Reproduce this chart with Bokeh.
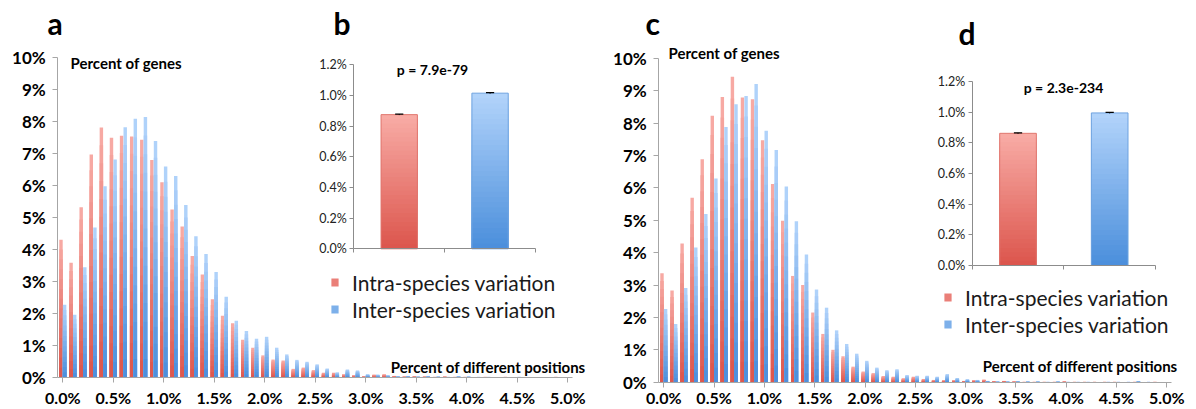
from bokeh.plotting import figure
from bokeh.models import (Range1d, LinearAxis, FixedTicker, PrintfTickFormatter,
                          Label, Legend, LegendItem, ColumnDataSource)
from bokeh.layouts import row
from bokeh.embed import file_html
from bokeh.resources import INLINE

# ---------------- data ----------------
BINS = [0.0, 0.1, 0.2, 0.3, 0.4, 0.5, 0.6, 0.7, 0.8, 0.9,
        1.0, 1.1, 1.2, 1.3, 1.4, 1.5, 1.6, 1.7, 1.8, 1.9,
        2.0, 2.1, 2.2, 2.3, 2.4, 2.5, 2.6, 2.7, 2.8, 2.9,
        3.0, 3.1, 3.2, 3.3, 3.4, 3.5, 3.6, 3.7, 3.8, 3.9,
        4.0, 4.1, 4.2, 4.3, 4.4, 4.5, 4.6, 4.7, 4.8, 4.9, 5.0]

A_INTRA = [4.30, 3.58, 5.31, 6.96, 7.80, 7.48, 7.54, 7.52, 7.42, 6.79,
           6.09, 5.24, 4.71, 3.79, 3.21, 2.44, 1.93, 1.69, 1.18, 0.93,
           0.69, 0.56, 0.53, 0.27, 0.31, 0.23, 0.15, 0.15, 0.10, 0.07,
           0.04, 0.09, 0.10, 0.05, 0.03, 0.04, 0.03, 0.02, 0.03, 0.02,
           0.02, 0.01, 0.02, 0.01, 0.02, 0.01, 0.01, 0.01, 0.01, 0.02, 0.00]
A_INTER = [2.27, 1.96, 3.44, 4.68, 5.97, 6.80, 7.81, 8.07, 8.13, 7.38,
           6.58, 6.29, 5.38, 4.41, 3.85, 3.29, 2.52, 1.77, 1.45, 1.21,
           1.27, 0.93, 0.72, 0.55, 0.49, 0.41, 0.28, 0.16, 0.25, 0.22,
           0.10, 0.09, 0.07, 0.04, 0.05, 0.03, 0.05, 0.03, 0.02, 0.04,
           0.03, 0.02, 0.02, 0.01, 0.01, 0.02, 0.01, 0.01, 0.00, 0.01, 0.00]
C_INTRA = [3.36, 2.83, 4.28, 5.69, 6.88, 8.22, 8.80, 9.43, 8.79, 8.73,
           7.47, 6.12, 4.98, 3.28, 3.00, 2.15, 1.49, 1.00, 0.80, 0.48,
           0.33, 0.28, 0.19, 0.17, 0.12, 0.17, 0.10, 0.07, 0.06, 0.06,
           0.04, 0.06, 0.08, 0.03, 0.04, 0.02, 0.01, 0.01, 0.01, 0.01,
           0.02, 0.01, 0.01, 0.01, 0.01, 0.01, 0.00, 0.01, 0.00, 0.01, 0.00]
C_INTER = [2.26, 1.80, 2.91, 4.16, 5.19, 6.29, 7.88, 8.58, 8.83, 9.20,
           7.76, 7.17, 6.04, 4.97, 3.94, 2.86, 2.30, 1.60, 1.18, 0.88,
           0.66, 0.45, 0.37, 0.40, 0.22, 0.20, 0.20, 0.17, 0.25, 0.13,
           0.09, 0.07, 0.04, 0.02, 0.02, 0.03, 0.02, 0.02, 0.01, 0.02,
           0.01, 0.01, 0.01, 0.00, 0.01, 0.01, 0.01, 0.03, 0.01, 0.00, 0.00]

GROUPS = ["Intra-species variation", "Inter-species variation"]
B_MEANS = [0.875, 1.015]
B_ERR = [0.003, 0.003]
D_MEANS = [0.862, 0.995]
D_ERR = [0.003, 0.003]
B_PVAL = "p = 7.9e-79"
D_PVAL = "p = 2.3e-234"

Y_TICKS = [0, 1, 2, 3, 4, 5, 6, 7, 8, 9, 10]
X_TICKS = [0.0, 0.5, 1.0, 1.5, 2.0, 2.5, 3.0, 3.5, 4.0, 4.5, 5.0]
INSET_TICKS = [0.0, 0.2, 0.4, 0.6, 0.8, 1.0, 1.2]
Y_LABEL = "Percent of genes"
X_LABEL = "Percent of different positions"

# ---------------- style ----------------
FONT = "Lato"
RED_TOP, RED_BOT = "#f8aca6", "#dc554c"
BLUE_TOP, BLUE_BOT = "#b3d4fb", "#4a8edb"
RED_LINE, BLUE_LINE = "#e0766e", "#6fa3e0"
AXIS_COL = "#a6a6a6"
N_SLICES = 14
H = 409


def hex2rgb(h):
    h = h.lstrip("#")
    return tuple(int(h[i:i + 2], 16) for i in (0, 2, 4))


def mix(c1, c2, t):
    a, b = hex2rgb(c1), hex2rgb(c2)
    return "#%02x%02x%02x" % tuple(int(round(a[i] + (b[i] - a[i]) * t)) for i in range(3))


def gradient_source(xs, vals, c_top, c_bot, n=N_SLICES):
    x, top, col = [], [], []
    for i in reversed(range(n)):
        for xv, v in zip(xs, vals):
            x.append(xv)
            top.append(v * (i + 1) / n)
            col.append(mix(c_bot, c_top, (i + 0.5) / n))
    return ColumnDataSource(dict(x=x, top=top, color=col))


def mk_lin(p0, d0, p1, d1):
    return lambda px: d0 + (px - p0) * (d1 - d0) / (p1 - p0)


def build(g, intra, inter, means, errs, pval, letters):
    x0, W = g["x0"], g["W"]
    fx = mk_lin(g["mx0"], 0.0, g["mx5"], 5.0)
    fy = mk_lin(g["my0"], 0.0, g["my10"], 10.0)
    ix = mk_lin(g["ix0"], 0.0, g["ix2"], 2.0)
    iy = mk_lin(g["iy0"], 0.0, g["iy12"], 1.2)

    p = figure(width=W, height=H, title=None,
               min_border=0, min_border_left=0, min_border_right=0,
               min_border_top=0, min_border_bottom=0,
               x_range=Range1d(fx(x0), fx(x0 + W)), y_range=Range1d(fy(H), fy(0)),
               x_axis_type=None, y_axis_type=None,
               output_backend="svg", toolbar_location=None)
    p.outline_line_color = None
    p.xgrid.visible = False
    p.ygrid.visible = False
    p.background_fill_color = "white"
    p.border_fill_color = "white"
    p.extra_x_ranges = {"ix": Range1d(ix(x0), ix(x0 + W))}
    p.extra_y_ranges = {"iy": Range1d(iy(H), iy(0))}

    # main axes (fixed inside the frame)
    xa = LinearAxis(ticker=FixedTicker(ticks=X_TICKS), fixed_location=0,
                    bounds=(-0.05, 5.05),
                    formatter=PrintfTickFormatter(format="%.1f%%"))
    ya = LinearAxis(ticker=FixedTicker(ticks=Y_TICKS), fixed_location=-0.05,
                    bounds=(0, 10),
                    formatter=PrintfTickFormatter(format="%d%%"))
    for ax in (xa, ya):
        ax.axis_line_color = AXIS_COL
        ax.major_tick_line_color = AXIS_COL
        ax.minor_tick_line_color = None
        ax.major_tick_out = 5
        ax.major_tick_in = 0
        ax.major_label_text_font = FONT
        ax.major_label_text_font_style = "bold"
        ax.major_label_text_color = "black"
    xa.major_label_text_font_size = "16px"
    ya.major_label_text_font_size = "17px"
    xa.major_label_standoff = g["xstand"]
    ya.major_label_standoff = 7
    p.add_layout(xa, "below")
    p.add_layout(ya, "left")

    # histogram bars with vertical gradient
    off, bw = 0.018, 0.034
    src_r = gradient_source([b - off for b in BINS], intra, RED_TOP, RED_BOT)
    src_b = gradient_source([b + off for b in BINS], inter, BLUE_TOP, BLUE_BOT)
    p.vbar(x="x", top="top", bottom=0, width=bw, source=src_r,
           fill_color="color", line_color=None)
    p.vbar(x="x", top="top", bottom=0, width=bw, source=src_b,
           fill_color="color", line_color=None)

    # inset bar chart
    cats = [0.5, 1.5]
    ns = 30
    ins_src_r = gradient_source([cats[0]], [means[0]], RED_TOP, RED_BOT, ns)
    ins_src_b = gradient_source([cats[1]], [means[1]], BLUE_TOP, BLUE_BOT, ns)
    rr = p.vbar(x="x", top="top", bottom=0, width=0.4, source=ins_src_r, fill_color="color",
                line_color=None, x_range_name="ix", y_range_name="iy")
    rb = p.vbar(x="x", top="top", bottom=0, width=0.4, source=ins_src_b, fill_color="color",
                line_color=None, x_range_name="ix", y_range_name="iy")
    p.vbar(x=cats, top=means, bottom=0, width=0.4, fill_alpha=0,
           line_color=[RED_LINE, BLUE_LINE], line_width=1,
           x_range_name="ix", y_range_name="iy")
    ups = [m + e for m, e in zip(means, errs)]
    p.segment(x0=cats, x1=cats, y0=[m - e for m, e in zip(means, errs)], y1=ups,
              line_color="black", line_width=1, x_range_name="ix", y_range_name="iy")
    p.segment(x0=[c - 0.045 for c in cats], x1=[c + 0.045 for c in cats],
              y0=ups, y1=ups, line_color="black", line_width=1.2,
              x_range_name="ix", y_range_name="iy")

    iya = LinearAxis(x_range_name="ix", y_range_name="iy", fixed_location=0,
                     bounds=(0, 1.2), ticker=FixedTicker(ticks=INSET_TICKS),
                     formatter=PrintfTickFormatter(format="%.1f%%"))
    ixa = LinearAxis(x_range_name="ix", y_range_name="iy", fixed_location=0,
                     bounds=(0, 2), ticker=FixedTicker(ticks=[0, 1, 2]),
                     major_label_text_alpha=0)
    for ax in (iya, ixa):
        ax.axis_line_color = "#8c8c8c"
        ax.major_tick_line_color = "#8c8c8c"
        ax.minor_tick_line_color = None
        ax.major_tick_out = 4
        ax.major_tick_in = 0
        ax.major_label_text_font = FONT
        ax.major_label_text_font_size = "12.5px"
        ax.major_label_text_color = "#222222"
        ax.major_label_standoff = 3
    p.add_layout(iya, "left")
    p.add_layout(ixa, "below")

    # legend
    lx, ltop = g["legend"]
    item_h, spacing = 25, 2
    lbottom = ltop + 2 * item_h + spacing
    leg = Legend(items=[LegendItem(label=GROUPS[0], renderers=[rr], index=ns // 2),
                        LegendItem(label=GROUPS[1], renderers=[rb], index=ns // 2)],
                 location=(lx - x0, H - lbottom),
                 label_text_font=FONT, label_text_font_size="21px",
                 label_text_color="#1a1a1a", glyph_width=9, glyph_height=10,
                 label_standoff=13, spacing=spacing, padding=0, margin=0,
                 label_height=item_h, border_line_alpha=0, background_fill_alpha=0)
    p.add_layout(leg)

    # texts
    def txt(x, y, t, size, align="left", rx=None, ry=None):
        kw = {}
        if rx:
            kw.update(x_range_name=rx, y_range_name=ry)
        p.add_layout(Label(x=x, y=y, text=t, text_font=FONT, text_font_style="bold",
                           text_font_size=size, text_align=align,
                           text_baseline="alphabetic", text_color="black", **kw))

    (l1, l1x, l1y), (l2, l2x, l2y) = letters
    txt(fx(l1x), fy(l1y), l1, "30px")
    txt(fx(l2x), fy(l2y), l2, "30px")
    txt(fx(g["genes"][0]), fy(g["genes"][1]), Y_LABEL, "15px")
    txt(fx(g["positions"][0]), fy(g["positions"][1]), X_LABEL, "15px", align="right")
    txt(ix(g["pval"][0]), iy(g["pval"][1]), pval, "14px", align="center", rx="ix", ry="iy")
    return p


G_LEFT = dict(x0=0, W=606, xstand=5,
              mx0=62.3, mx5=567.3, my0=377.0, my10=56.5,
              ix0=353.3, ix2=535.0, iy0=248.3, iy12=64.3,
              genes=(70, 62), positions=(585, 366), pval=(432, 69),
              legend=(330, 269.5))
G_RIGHT = dict(x0=606, W=590, xstand=1,
               mx0=663.3, mx5=1166.3, my0=381.7, my10=57.7,
               ix0=971.7, ix2=1155.0, iy0=265.0, iy12=81.0,
               genes=(668, 52), positions=(1177, 365), pval=(1063, 87),
               legend=(943, 284.5))

p1 = build(G_LEFT, A_INTRA, A_INTER, B_MEANS, B_ERR, B_PVAL,
           (("a", 47, 22), ("b", 333, 22)))
p2 = build(G_RIGHT, C_INTRA, C_INTER, D_MEANS, D_ERR, D_PVAL,
           (("c", 645, 22), ("d", 958, 32)))

layout = row(p1, p2, spacing=0)
open("out.html", "w").write(file_html(layout, INLINE))
